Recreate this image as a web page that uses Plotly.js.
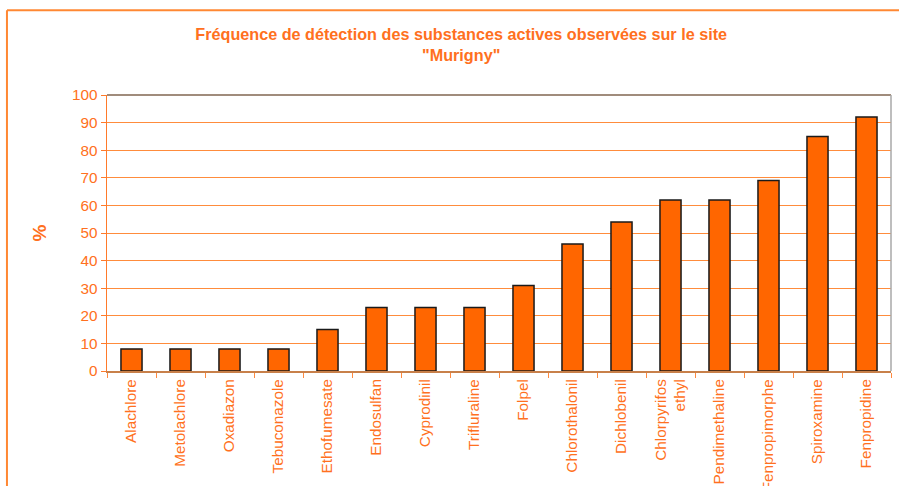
<!DOCTYPE html>
<html>
<head>
<meta charset="utf-8">
<script src="https://cdn.plot.ly/plotly-3.0.1.min.js"></script>
<style>html,body{margin:0;padding:0;background:#fff;}#chart{width:899px;height:486px;}</style>
</head>
<body>
<div id="chart"></div>
<script>
const substances = ["Alachlore","Metolachlore","Oxadiazon","Tebuconazole","Ethofumesate","Endosulfan","Cyprodinil","Trifluraline","Folpel","Chlorothalonil","Dichlobenil","Chlorpyrifos<br>ethyl","Pendimethaline","Fenpropimorphe","Spiroxamine","Fenpropidine"];
const frequence = [8,8,8,8,15,23,23,23,31,46,54,62,62,69,85,92];
const yTicks = [0,10,20,30,40,50,60,70,80,90,100];

const orange = "#ff6600";
const textOrange = "#ff7020";
const font = {family: "Liberation Sans, Arial, sans-serif", size: 15.3, color: textOrange};

const trace = {
  type: "bar",
  x: substances,
  y: frequence,
  marker: {color: orange, line: {color: "#1a1a1a", width: 1.5}},
  hoverinfo: "x+y"
};

const layout = {
  width: 899, height: 486,
  margin: {l: 107, r: 8, t: 95, b: 115},
  paper_bgcolor: "#ffffff",
  plot_bgcolor: "#ffffff",
  font: font,
  bargap: 0.57,
  showlegend: false,
  title: {
    text: "<b>Fréquence de détection des substances actives observées sur le site<br>\"Murigny\"</b>",
    font: {family: "Liberation Sans, Arial, sans-serif", size: 16.2, color: textOrange},
    xref: "container", x: 0.513, xanchor: "center",
    yref: "container", y: 0.917, yanchor: "top"
  },
  xaxis: {
    type: "category",
    tickangle: -90,
    tickfont: font,
    showline: true, linecolor: "#c8804a", linewidth: 2,
    ticks: "outside", tickson: "boundaries", ticklen: 5, tickcolor: "#ff8a40", tickwidth: 1,
    showgrid: false,
    automargin: false,
    fixedrange: true
  },
  yaxis: {
    range: [0, 100],
    tickvals: yTicks,
    ticktext: yTicks.map(String),
    tickfont: font,
    showline: true, linecolor: "#ff7a2a", linewidth: 1.5,
    ticks: "outside", ticklen: 5, tickcolor: "#ff7a2a",
    showgrid: true, gridcolor: "#ff8c3c", gridwidth: 1,
    zeroline: false,
    title: {text: "<b>%</b>", font: {family: "Liberation Sans, Arial, sans-serif", size: 19, color: textOrange}, standoff: 20},
    automargin: false,
    fixedrange: true
  },
  shapes: [
    {type: "line", xref: "paper", yref: "paper", x0: 0, x1: 1, y0: 1, y1: 1, line: {color: "#a08c7c", width: 2}},
    {type: "line", xref: "paper", yref: "paper", x0: 1, x1: 1, y0: 0, y1: 1, line: {color: "#a8a8a8", width: 1.5}},
    {type: "line", xref: "paper", yref: "paper", x0: -0.1276, x1: 1.05, y0: 1.3067, y1: 1.3067, line: {color: "#ff8833", width: 2}},
    {type: "line", xref: "paper", yref: "paper", x0: -0.1276, x1: -0.1276, y0: 1.3067, y1: -0.45, line: {color: "#ff8833", width: 2}}
  ]
};

Plotly.newPlot("chart", [trace], layout, {displayModeBar: false, staticPlot: true});
</script>
</body>
</html>
